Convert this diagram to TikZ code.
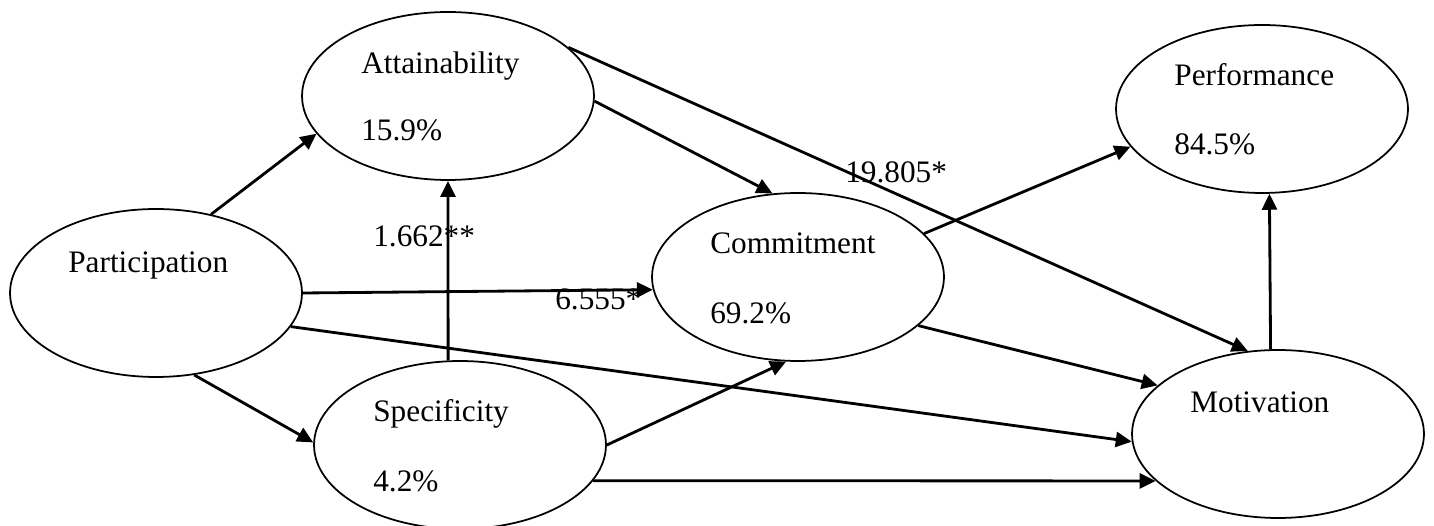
\documentclass[tikz,border=0pt]{standalone}
\usepackage{fontspec}
\setmainfont{Liberation Serif}
\usetikzlibrary{shapes.geometric,arrows.meta}

\begin{document}
\begin{tikzpicture}[x=0.02cm,y=-0.02cm,
  oval/.style={draw,ellipse,line width=1pt,minimum width=5.84cm,minimum height=3.36cm,inner sep=0pt},
  txt/.style={anchor=base west,inner sep=0pt,font=\fontsize{17.8}{21}\selectfont},
  arr/.style={line width=1.6pt,-{Triangle[length=0.32cm,width=0.3cm]}}]
\useasboundingbox (0,0) rectangle (1434,526);
\node[oval] (par) at (156,293) {};
\node[oval] (att) at (448,96) {};
\node[oval] (com) at (798,277) {};
\node[oval] (perf) at (1262,109) {};
\node[oval] (spec) at (460,445) {};
\node[oval] (mot) at (1278,434) {};
\node[txt] (par-name) at (68,273) {Participation};
\node[txt] (att-name) at (361,74) {Attainability};
\node[txt] (att-val) at (361,141) {15.9\%};
\node[txt] (com-name) at (710,254) {Commitment};
\node[txt] (com-val) at (710,324) {69.2\%};
\node[txt] (perf-name) at (1174,86) {Performance};
\node[txt] (perf-val) at (1174,155) {84.5\%};
\node[txt] (spec-name) at (373,422) {Specificity};
\node[txt] (spec-val) at (373,492) {4.2\%};
\node[txt] (mot-name) at (1190,413) {Motivation};
\node[txt] (lbl-a) at (373,247) {1.662**};
\node[txt] (lbl-b) at (845,183) {19.805*};
\node[txt] (lbl-c) at (555,310) {6.555*};
\draw[arr] (par.55.6) -- (att.196.1);
\draw[arr] (par.0.4) -- (com.185.9);
\draw[arr] (par.-14.1) -- (mot.183.5);
\draw[arr] (par.-65.4) -- (spec.179.2);
\draw[arr] (spec.98.1) -- (att.-90);
\draw[arr] (spec.0.8) -- (com.262.6);
\draw[arr] (spec.-15.3) -- (mot.201.3);
\draw[arr] (att.-2.7) -- (com.107.2);
\draw[arr] (att.22.3) -- (mot.110.3);
\draw[arr] (com.19.8) -- (perf.196.4);
\draw[arr] (com.-22.8) -- (mot.158.7);
\draw[arr] (mot.95.4) -- (perf.275.4);
\end{tikzpicture}
\end{document}
